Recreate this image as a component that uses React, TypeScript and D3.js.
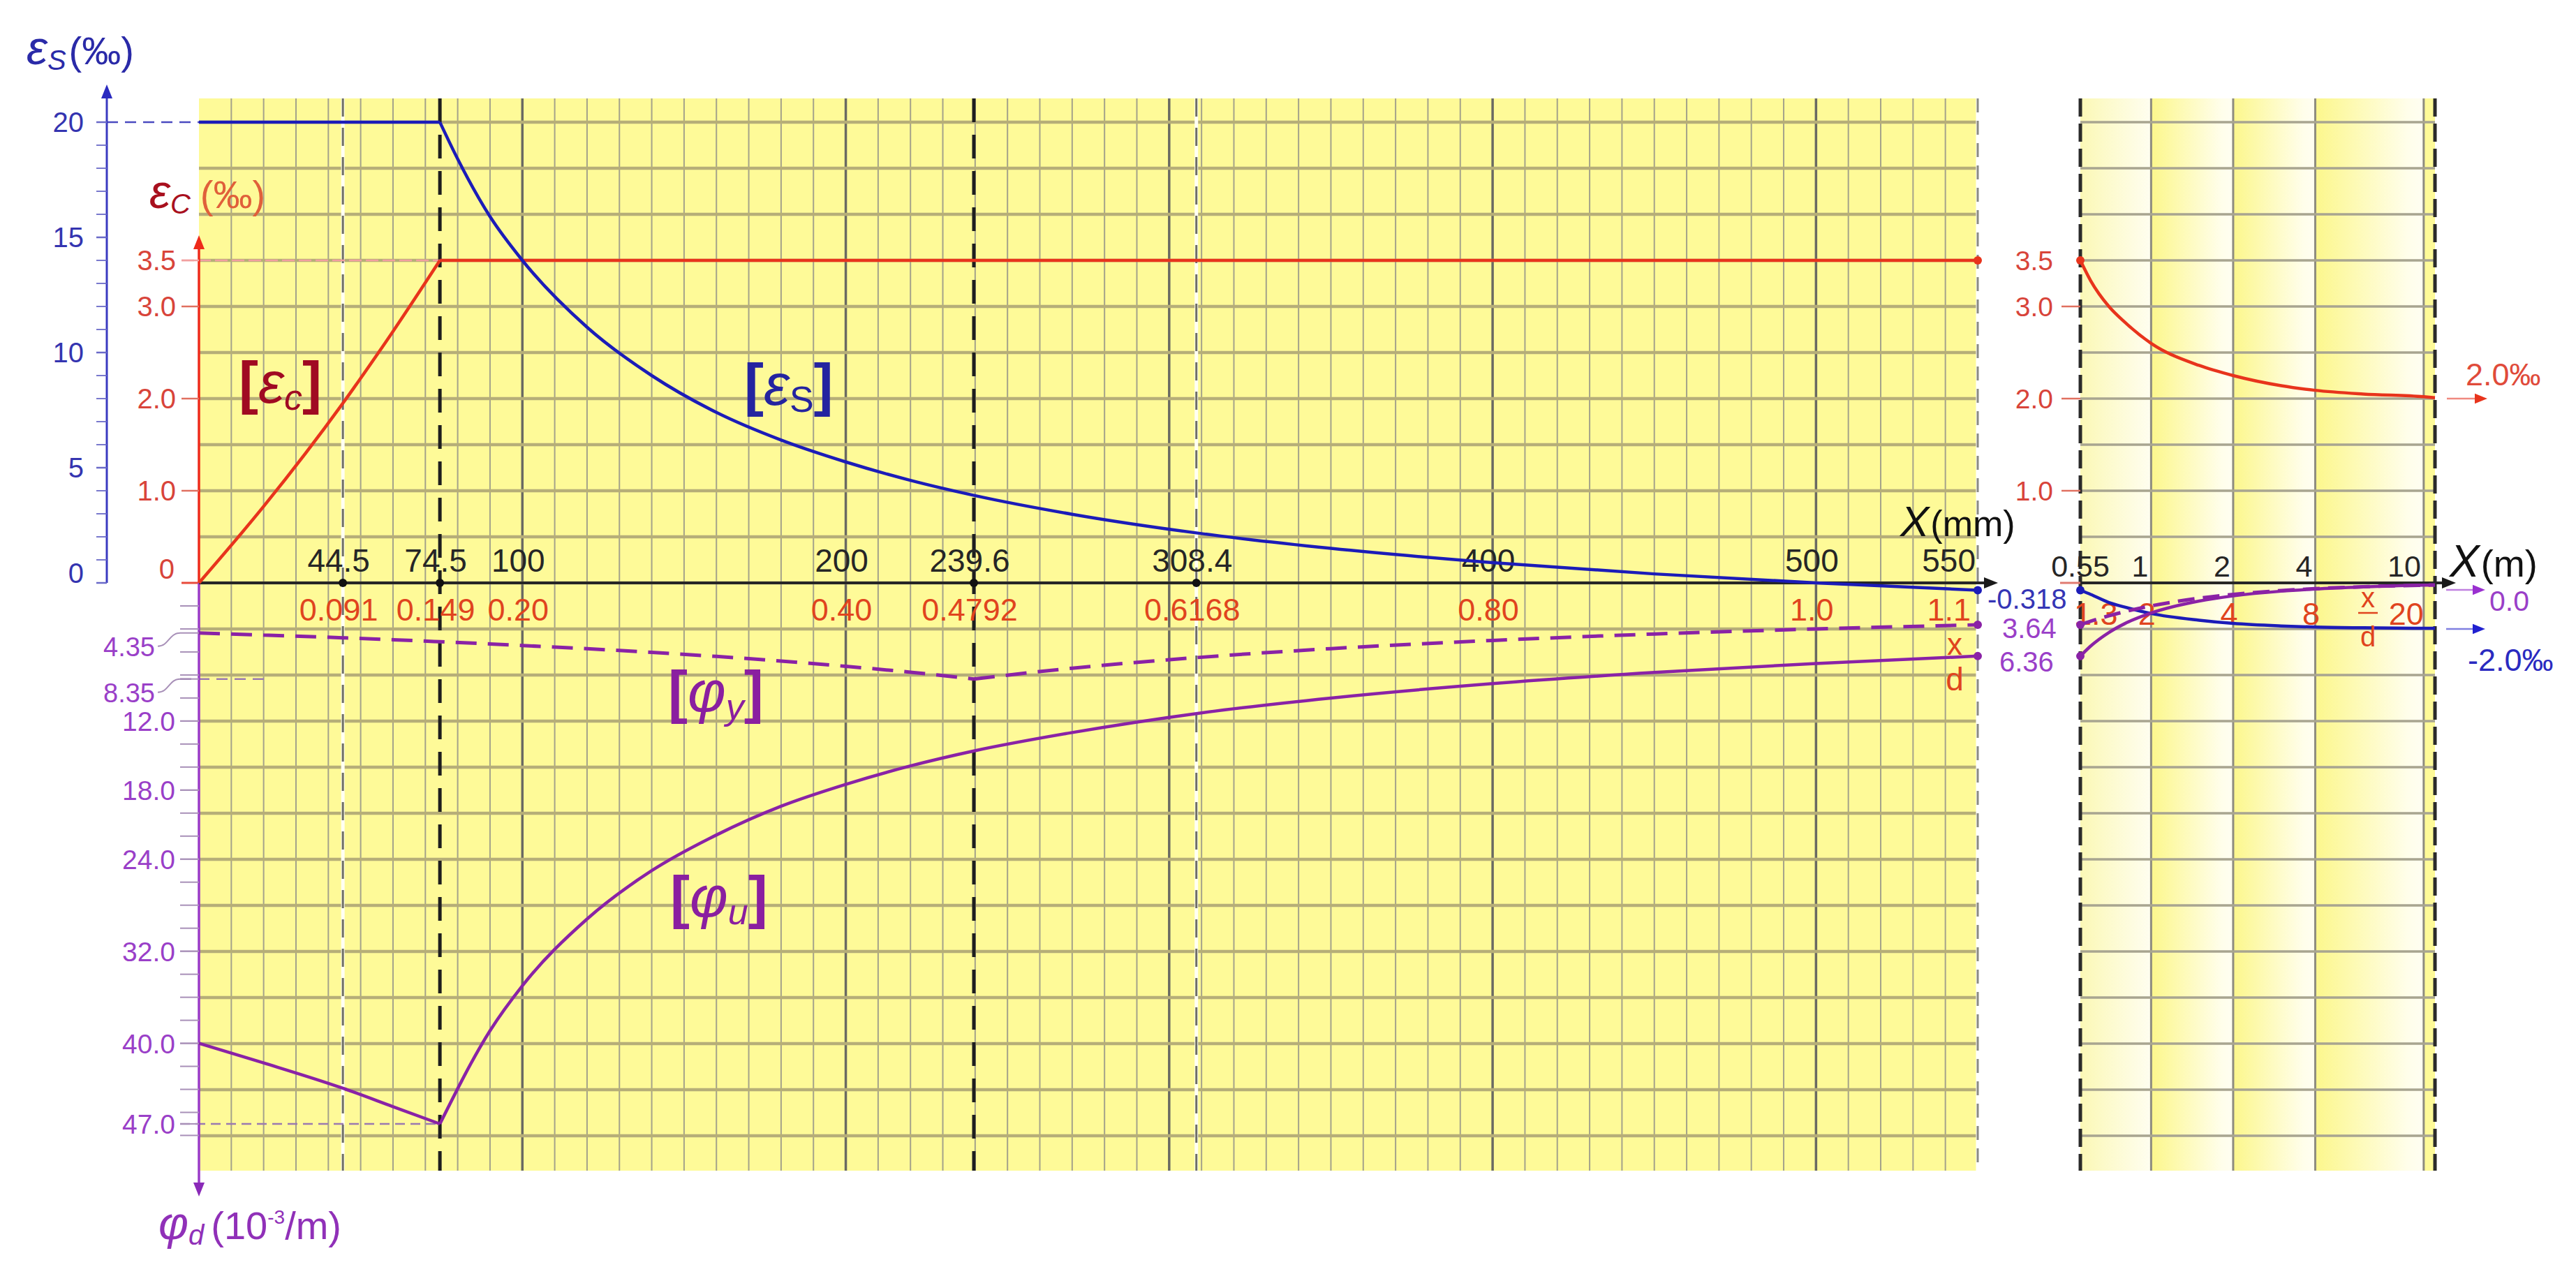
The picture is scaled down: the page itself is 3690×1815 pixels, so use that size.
import * as d3 from 'd3';
import React from 'react';

// ---- panel 1 : depth of neutral axis x in mm ----
const steelX = [0, 74.5, 80, 90, 100, 120, 140, 160, 180, 200, 220, 239.6, 270, 308.4, 350, 400, 450, 500, 550];
const epsSteel = [20, 20, 18.4, 15.9, 14.0, 11.1, 9.0, 7.4, 6.2, 5.25, 4.45, 3.8, 2.98, 2.17, 1.5, 0.88, 0.39, 0.0, -0.318];

const concX = [0, 20, 44.5, 60, 74.5, 550];
const epsConc = [0, 0.83, 1.95, 2.73, 3.5, 3.5];

const phiX = [0, 20, 44.5, 60, 74.5, 90, 100, 120, 140, 160, 180, 200, 220, 239.6, 270, 308.4, 350, 400, 450, 500, 550];
const phiYield = [4.35, 4.53, 4.77, 4.94, 5.11, 5.3, 5.44, 5.72, 6.04, 6.39, 6.79, 7.25, 7.76, 8.35, 7.41, 6.49, 5.71, 5.0, 4.44, 4.0, 3.64];
const phiUlt = [40.0, 41.7, 43.9, 45.5, 47.0, 38.9, 35.0, 29.2, 25.0, 21.9, 19.4, 17.5, 15.9, 14.6, 13.0, 11.35, 10.0, 8.75, 7.78, 7.0, 6.36];

// ---- panel 2 : x in m (log) ----
const mX = [0.55, 0.6, 0.7, 0.8, 1, 1.5, 2, 3, 4, 6, 10, 11];
const epsConcM = [3.5, 3.28, 3.0, 2.83, 2.6, 2.36, 2.25, 2.14, 2.09, 2.05, 2.02, 2.01];
const epsSteelM = [-0.318, -0.5, -0.85, -1.05, -1.33, -1.62, -1.76, -1.87, -1.92, -1.95, -1.97, -1.97];
const phiYieldM = [3.64, 3.33, 2.86, 2.5, 2.0, 1.33, 1.0, 0.67, 0.5, 0.33, 0.2, 0.18];
const phiUltM = [6.36, 5.49, 4.31, 3.54, 2.62, 1.58, 1.13, 0.72, 0.53, 0.35, 0.2, 0.19];

// ---- tick labels ----
const mmTicks = [44.5, 74.5, 100, 200, 239.6, 308.4, 400, 500, 550];
const ratioLabels = ['0.091', '0.149', '0.20', '0.40', '0.4792', '0.6168', '0.80', '1.0', '1.1'];
const mTicks = [0.55, 1, 2, 4, 10];
const mRatioAt = [0.65, 1, 2, 4, 10];
const mRatioLabels = ['1.3', '2', '4', '8', '20'];
const steelTicks = [0, 5, 10, 15, 20];
const concTicks = [1, 2, 3, 3.5];
const phiTicks = [12, 18, 24, 32, 40, 47];
const phiMarks = [4.35, 8.35];
const dashedMm = [44.5, 74.5, 239.6, 308.4];

const FONT = "'Liberation Sans', Arial, sans-serif";
const BLUE = '#1c1cb8';
const RED = '#e8341c';
const PURPLE = '#8a22a6';
const PLAB = '#9a3fc8';
const YELLOW = '#fefa98';

function pieces(xs, vs, breaks) {
  const out = [[]];
  xs.forEach((x, i) => {
    out[out.length - 1].push([x, vs[i]]);
    if (breaks.includes(x) && i > 0 && i < xs.length - 1) out.push([[x, vs[i]]]);
  });
  return out;
}

function Arrow({ x, y, dir, color, size = 12 }) {
  let pts;
  if (dir === 'right') pts = `${x},${y} ${x - size * 2},${y - size * 0.8} ${x - size * 2},${y + size * 0.8}`;
  else if (dir === 'up') pts = `${x},${y} ${x - size * 0.8},${y + size * 2} ${x + size * 0.8},${y + size * 2}`;
  else pts = `${x},${y} ${x - size * 0.8},${y - size * 2} ${x + size * 0.8},${y - size * 2}`;
  return <polygon points={pts} fill={color} />;
}

export default function App() {
  const xMm = d3.scaleLinear().domain([0, 550]).range([285, 2833]);
  const xM = d3.scaleLog().domain([0.55, 11]).range([2980, 3488]);
  const yS = d3.scaleLinear().domain([0, 20]).range([835, 175]);
  const yC = d3.scaleLinear().domain([0, 3.5]).range([835, 373]);
  const yPhi = d3.scaleLinear().domain([0, 47]).range([835, 1610]);

  const top = 141, bottom = 1677, axisY = yS(0);
  const p1L = xMm(0), p1R = xMm(550), p2L = xM(0.55), p2R = xM(11);

  const lineMm = (ys) => d3.line().x(d => xMm(d[0])).y(d => ys(d[1])).curve(d3.curveMonotoneX);
  const lineM = (ys) => d3.line().x(d => xM(d[0])).y(d => ys(d[1])).curve(d3.curveMonotoneX);
  const zipM = (vs) => mX.map((x, i) => [x, vs[i]]);

  const hGrid = d3.range(-24, 21, 2).map(v => yS(v));
  const vGrid = d3.range(10, 550, 10);
  const bands = [0.55, 1, 2, 4, 10, 11];

  return (
    <svg width={3690} height={1815} style={{ position: 'absolute', left: 0, top: 0, background: '#fff' }} fontFamily={FONT}>
      <defs>
        <linearGradient id="band" x1="0" x2="1" y1="0" y2="0">
          <stop offset="0" stopColor="#fcf78c" />
          <stop offset="0.85" stopColor="#fffeea" />
          <stop offset="1" stopColor="#fffef2" />
        </linearGradient>
        <linearGradient id="band0" x1="0" x2="1" y1="0" y2="0">
          <stop offset="0" stopColor="#fbf8b6" />
          <stop offset="1" stopColor="#fffef0" />
        </linearGradient>
      </defs>

      {/* backgrounds */}
      <rect x={p1L} y={top} width={p1R - p1L} height={bottom - top} fill={YELLOW} />
      {bands.slice(0, -1).map((b, i) => (
        <rect key={'b' + i} x={xM(b)} y={top} width={xM(bands[i + 1]) - xM(b)} height={bottom - top}
          fill={i === 0 ? 'url(#band0)' : i === bands.length - 2 ? YELLOW : 'url(#band)'} />
      ))}

      {/* grid */}
      {vGrid.map(v => (
        <line key={'v' + v} x1={xMm(v)} x2={xMm(v)} y1={top} y2={bottom}
          stroke={v % 100 === 0 ? '#6a6a62' : '#a4a28a'} strokeWidth={v % 100 === 0 ? 3.5 : 2} />
      ))}
      {[1, 2, 4, 10].map(v => (
        <line key={'vm' + v} x1={xM(v)} x2={xM(v)} y1={top} y2={bottom} stroke="#8e8c80" strokeWidth={3} />
      ))}
      {hGrid.map((y, i) => (
        <g key={'h' + i}>
          <line x1={p1L} x2={p1R} y1={y} y2={y} stroke="#b6ae78" strokeWidth={4.5} />
          <line x1={p2L} x2={p2R} y1={y} y2={y} stroke="#a8a590" strokeWidth={3.5} />
        </g>
      ))}

      {/* dashed reference verticals */}
      {dashedMm.map(v => {
        const strong = v === 74.5 || v === 239.6;
        return (
          <g key={'d' + v}>
            {!strong && <line x1={xMm(v)} x2={xMm(v)} y1={top} y2={bottom} stroke="#fffff4" strokeWidth={5} />}
            <line x1={xMm(v)} x2={xMm(v)} y1={top} y2={bottom} stroke={strong ? '#1e1e1e' : '#6e6e66'}
              strokeWidth={strong ? 5 : 3} strokeDasharray={strong ? '34 18' : '26 16'} />
          </g>
        );
      })}
      <line x1={p1R} x2={p1R} y1={top} y2={bottom} stroke="#fff" strokeWidth={5} />
      <line x1={p1R} x2={p1R} y1={top} y2={bottom} stroke="#8a8a84" strokeWidth={3} strokeDasharray="20 12" />
      {[p2L, p2R].map((x, i) => (
        <line key={'p2' + i} x1={x} x2={x} y1={top} y2={bottom} stroke="#2a2a2a" strokeWidth={5} strokeDasharray="26 10" />
      ))}

      {/* helper dashed guides */}
      <line x1={153} x2={p1L} y1={yS(20)} y2={yS(20)} stroke="#4b4bc0" strokeWidth={2.5} strokeDasharray="16 10" />
      <line x1={260} x2={xMm(74.5)} y1={yC(3.5)} y2={yC(3.5)} stroke="#f2a0a0" strokeWidth={2.5} strokeDasharray="18 6" />
      <line x1={258} x2={388} y1={yPhi(8.35)} y2={yPhi(8.35)} stroke="#9a7ab0" strokeWidth={2.5} strokeDasharray="16 10" />
      <line x1={258} x2={xMm(74.5)} y1={yPhi(47)} y2={yPhi(47)} stroke="#9a7ab0" strokeWidth={2.5} strokeDasharray="14 8" />

      {/* blue steel-strain axis */}
      <line x1={153} x2={153} y1={axisY} y2={140} stroke="#3a3ac0" strokeWidth={3} />
      <Arrow x={153} y={121} dir="up" color="#2a2ac0" size={10} />
      {d3.range(0, 21, 1).map(v => (
        <line key={'st' + v} x1={138} x2={153} y1={yS(v)} y2={yS(v)} stroke="#6a6ac8" strokeWidth={v % 5 === 0 ? 2.5 : 1.8} />
      ))}
      {steelTicks.map(v => (
        <text key={'sl' + v} x={120} y={yS(v)} dy={v === 0 ? 0 : 14} textAnchor="end" fontSize={40} fill="#3434b0">{v}</text>
      ))}
      <text x={38} y={92} fill="#2a2aa8" fontSize={56}>
        <tspan fontStyle="italic" fontSize={68}>ε</tspan>
        <tspan fontStyle="italic" fontSize={40} dy={8}>S</tspan>
        <tspan dy={-8} dx={4}>(‰)</tspan>
      </text>

      {/* red concrete-strain axis */}
      <line x1={p1L} x2={p1L} y1={axisY} y2={356} stroke="#ee2a1a" strokeWidth={3.5} />
      <Arrow x={p1L} y={337} dir="up" color="#ee2a1a" size={10} />
      <line x1={260} x2={p1L} y1={axisY} y2={axisY} stroke="#e84a3a" strokeWidth={3} />
      {concTicks.map(v => (
        <g key={'ct' + v}>
          <line x1={260} x2={p1L} y1={yC(v)} y2={yC(v)} stroke={v === 3.5 ? '#f2a0a0' : '#e07060'} strokeWidth={2.5} />
          <text x={252} y={yC(v) + 14} textAnchor="end" fontSize={40} fill="#d8443a">{v.toFixed(1)}</text>
        </g>
      ))}
      <text x={250} y={829} textAnchor="end" fontSize={40} fill="#d8443a">0</text>
      <text x={214} y={298} fill="#a8101e" fontSize={56}>
        <tspan fontStyle="italic" fontSize={68}>ε</tspan>
        <tspan fontStyle="italic" fontSize={40} dy={8}>C</tspan>
        <tspan dy={-8} dx={14} fill="#e0603a">(‰)</tspan>
      </text>

      {/* purple curvature axis (downwards) */}
      <line x1={p1L} x2={p1L} y1={axisY} y2={1694} stroke="#9a3ac8" strokeWidth={3.5} />
      <Arrow x={p1L} y={1714} dir="down" color="#8a2ab8" size={10} />
      {d3.range(2, 49, 2).map(v => (
        <line key={'pt' + v} x1={258} x2={p1L} y1={yPhi(v)} y2={yPhi(v)} stroke="#a890b8" strokeWidth={2} />
      ))}
      {phiTicks.map(v => (
        <g key={'pl' + v}>
          <line x1={258} x2={p1L} y1={yPhi(v)} y2={yPhi(v)} stroke="#a890b8" strokeWidth={2} />
          <text x={251} y={yPhi(v) + 14} textAnchor="end" fontSize={39} fill={PLAB}>{v.toFixed(1)}</text>
        </g>
      ))}
      {phiMarks.map(v => (
        <g key={'pm' + v}>
          <line x1={258} x2={p1L} y1={yPhi(v)} y2={yPhi(v)} stroke="#a890b8" strokeWidth={2} />
          <path d={`M226,${yPhi(v) + 19} C242,${yPhi(v) + 19} 242,${yPhi(v)} 258,${yPhi(v)}`} fill="none" stroke="#a890b8" strokeWidth={2} />
          <text x={222} y={yPhi(v) + 33} textAnchor="end" fontSize={38} fill={PLAB}>{v.toFixed(2)}</text>
        </g>
      ))}
      <text x={227} y={1775} fill="#9030b8" fontSize={56}>
        <tspan fontStyle="italic" fontSize={66}>φ</tspan>
        <tspan fontStyle="italic" fontSize={40} dy={8}>d</tspan>
        <tspan dy={-8} dx={10}>(10</tspan>
        <tspan fontSize={28} dy={-22}>-3</tspan>
        <tspan dy={22}>/m)</tspan>
      </text>

      {/* x axes */}
      <line x1={p1L} x2={2845} y1={axisY} y2={axisY} stroke="#262626" strokeWidth={4} />
      <Arrow x={2862} y={axisY} dir="right" color="#1a1a1a" size={10} />
      <line x1={2951} x2={p2L} y1={axisY} y2={axisY} stroke="#e07a70" strokeWidth={3} />
      <line x1={p2L} x2={3500} y1={axisY} y2={axisY} stroke="#262626" strokeWidth={4} />
      <Arrow x={3518} y={axisY} dir="right" color="#1a1a1a" size={10} />

      {mmTicks.map((v, i) => {
        const last = i === mmTicks.length - 1;
        return (
          <g key={'mt' + v}>
            <text x={last ? p1R - 3 : xMm(v) - 6} y={819} textAnchor={last ? 'end' : 'middle'} fontSize={46} fill="#262626">{v}</text>
            <text x={last ? p1R - 10 : xMm(v) - 6} y={889} textAnchor={last ? 'end' : 'middle'} fontSize={45} fill="#e0441e">{ratioLabels[i]}</text>
          </g>
        );
      })}
      {dashedMm.map(v => <circle key={'dot' + v} cx={xMm(v)} cy={axisY} r={6} fill="#111" />)}
      <text x={2722} y={768} fontSize={52} fill="#111">
        <tspan fontStyle="italic" fontSize={62}>X</tspan>
        <tspan dx={2}>(mm)</tspan>
      </text>

      {mTicks.map((v, i) => (
        <text key={'mk' + v} x={i === 0 ? xM(v) : xM(v) - 4} y={826} textAnchor={i === 0 ? 'middle' : 'end'} fontSize={43} fill="#262626">{v}</text>
      ))}
      {mRatioAt.map((v, i) => (
        <text key={'mr' + v} x={i === mRatioAt.length - 1 ? xM(v) : xM(v) - 6} y={895}
          textAnchor={i === mRatioAt.length - 1 ? 'end' : 'middle'} fontSize={45} fill="#e0441e">{mRatioLabels[i]}</text>
      ))}
      <text x={3509} y={826} fontSize={54} fill="#111">
        <tspan fontStyle="italic" fontSize={64}>X</tspan>
        <tspan dx={2}>(m)</tspan>
      </text>

      {/* panel 2 left red ticks */}
      {[1, 2, 3].map(v => (
        <line key={'rt2' + v} x1={2953} x2={p2L} y1={yC(v)} y2={yC(v)} stroke="#e07060" strokeWidth={2.5} />
      ))}
      {concTicks.map(v => (
        <text key={'rl2' + v} x={2941} y={yC(v) + 14} textAnchor="end" fontSize={39} fill="#d8443a">{v.toFixed(1)}</text>
      ))}

      {/* curves panel 1 */}
      {pieces(concX, epsConc, [74.5]).map((seg, i) => (
        <path key={'c' + i} d={lineMm(yC)(seg)} fill="none" stroke={RED} strokeWidth={4.5} />
      ))}
      {pieces(steelX, epsSteel, [74.5]).map((seg, i) => (
        <path key={'s' + i} d={lineMm(yS)(seg)} fill="none" stroke={BLUE} strokeWidth={4.5} />
      ))}
      {pieces(phiX, phiYield, [239.6]).map((seg, i) => (
        <path key={'py' + i} d={lineMm(yPhi)(seg)} fill="none" stroke={PURPLE} strokeWidth={5} strokeDasharray="30 16" />
      ))}
      {pieces(phiX, phiUlt, [74.5]).map((seg, i) => (
        <path key={'pu' + i} d={lineMm(yPhi)(seg)} fill="none" stroke={PURPLE} strokeWidth={4.5} />
      ))}

      {/* curves panel 2 */}
      <path d={lineM(yC)(zipM(epsConcM))} fill="none" stroke={RED} strokeWidth={4.5} />
      <path d={lineM(yS)(zipM(epsSteelM))} fill="none" stroke={BLUE} strokeWidth={4.5} />
      <path d={lineM(yPhi)(zipM(phiYieldM))} fill="none" stroke={PURPLE} strokeWidth={5} strokeDasharray="24 12" />
      <path d={lineM(yPhi)(zipM(phiUltM))} fill="none" stroke={PURPLE} strokeWidth={4.5} />

      {/* end dots */}
      <circle cx={p1R} cy={yC(3.5)} r={6} fill={RED} />
      <circle cx={p1R} cy={yS(-0.318)} r={6} fill={BLUE} />
      <circle cx={p1R} cy={yPhi(3.64)} r={6} fill={PURPLE} />
      <circle cx={p1R} cy={yPhi(6.36)} r={6} fill={PURPLE} />
      <circle cx={p2L} cy={yC(3.5)} r={6} fill={RED} />
      <circle cx={p2L} cy={yS(-0.318)} r={6} fill={BLUE} />
      <circle cx={p2L} cy={yPhi(3.64)} r={6} fill={PURPLE} />
      <circle cx={p2L} cy={yPhi(6.36)} r={6} fill={PURPLE} />

      {/* values at x = 550 mm */}
      <text x={2847} y={872} fontSize={40} fill="#3535b5">-0.318</text>
      <text x={2868} y={914} fontSize={40} fill={PLAB}>3.64</text>
      <text x={2864} y={962} fontSize={40} fill={PLAB}>6.36</text>
      <text x={2800} y={938} textAnchor="middle" fontSize={44} fill="#e0441e">x</text>
      <text x={2800} y={989} textAnchor="middle" fontSize={46} fill="#e0441e">d</text>
      <text x={3392} y={870} textAnchor="middle" fontSize={40} fill="#e0441e">x</text>
      <line x1={3378} x2={3406} y1={878} y2={878} stroke="#e0441e" strokeWidth={2.5} />
      <text x={3392} y={926} textAnchor="middle" fontSize={40} fill="#e0441e">d</text>

      {/* asymptote arrows */}
      <line x1={3505} x2={3545} y1={yC(2)} y2={yC(2)} stroke="#f08a80" strokeWidth={2.5} />
      <Arrow x={3563} y={yC(2)} dir="right" color={RED} size={9} />
      <text x={3532} y={552} fontSize={45} fill="#e04a3a">2.0‰</text>
      <line x1={3504} x2={3542} y1={845} y2={845} stroke="#c080e0" strokeWidth={2.5} />
      <Arrow x={3560} y={845} dir="right" color="#9a30d0" size={9} />
      <text x={3566} y={875} fontSize={41} fill={PLAB}>0.0</text>
      <line x1={3504} x2={3542} y1={yS(-2)} y2={yS(-2)} stroke="#8080e0" strokeWidth={2.5} />
      <Arrow x={3560} y={yS(-2)} dir="right" color="#2020d0" size={9} />
      <text x={3535} y={961} fontSize={45} fill="#2a2ac0">-2.0‰</text>

      {/* curve labels */}
      <text x={342} y={577} fontSize={84} fill="#a00a22" fontWeight="bold">
        <tspan>[</tspan>
        <tspan fontStyle="italic" fontWeight="normal">ε</tspan>
        <tspan fontStyle="italic" fontWeight="normal" fontSize={52} dy={10}>c</tspan>
        <tspan dy={-10}>]</tspan>
      </text>
      <text x={1066} y={580} fontSize={84} fill="#2424a0" fontWeight="bold">
        <tspan>[</tspan>
        <tspan fontStyle="italic" fontWeight="normal">ε</tspan>
        <tspan fontWeight="normal" fontSize={52} dy={10}>S</tspan>
        <tspan dy={-10}>]</tspan>
      </text>
      <text x={957} y={1020} fontSize={84} fill="#8a1fa0" fontWeight="bold">
        <tspan>[</tspan>
        <tspan fontStyle="italic" fontWeight="normal">φ</tspan>
        <tspan fontStyle="italic" fontWeight="normal" fontSize={52} dy={10}>y</tspan>
        <tspan dy={-10}>]</tspan>
      </text>
      <text x={960} y={1314} fontSize={84} fill="#8a1fa0" fontWeight="bold">
        <tspan>[</tspan>
        <tspan fontStyle="italic" fontWeight="normal">φ</tspan>
        <tspan fontStyle="italic" fontWeight="normal" fontSize={52} dy={10}>u</tspan>
        <tspan dy={-10}>]</tspan>
      </text>
    </svg>
  );
}
